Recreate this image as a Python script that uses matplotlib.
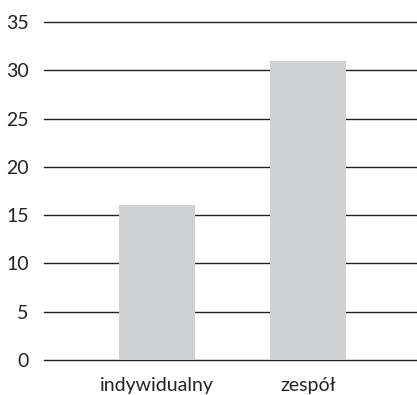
import matplotlib
matplotlib.use("Agg")
import matplotlib.pyplot as plt

categories = ["indywidualny", "zespół"]
values = [16, 31]
yticks = [0, 5, 10, 15, 20, 25, 30, 35]

plt.rcParams['font.family'] = ['Lato', 'DejaVu Sans']

fig = plt.figure(figsize=(4.17, 3.95), dpi=100)
ax = fig.add_axes([44/417, 35/395, (417-44)/417, (360-22)/395])
x = list(range(len(categories)))
ax.bar(x, values, width=0.5, color="#d0d1d3", zorder=3)
ax.set_ylim(0, 35)
ax.set_xlim(-0.748, 1.72)
ax.set_yticks(yticks)
ax.set_xticks(x)
ax.set_xticklabels(categories)
ax.yaxis.grid(True, color="#222222", linewidth=1.0, zorder=0)
for gl in ax.yaxis.get_gridlines():
    gl.set_clip_on(False)
ax.set_axisbelow(True)
for s in ax.spines.values():
    s.set_visible(False)
ax.tick_params(axis='both', length=0, labelsize=14, colors="#222222")
ax.tick_params(axis='y', pad=11)
ax.tick_params(axis='x', pad=12)
fig.savefig("out.png", dpi=100)
